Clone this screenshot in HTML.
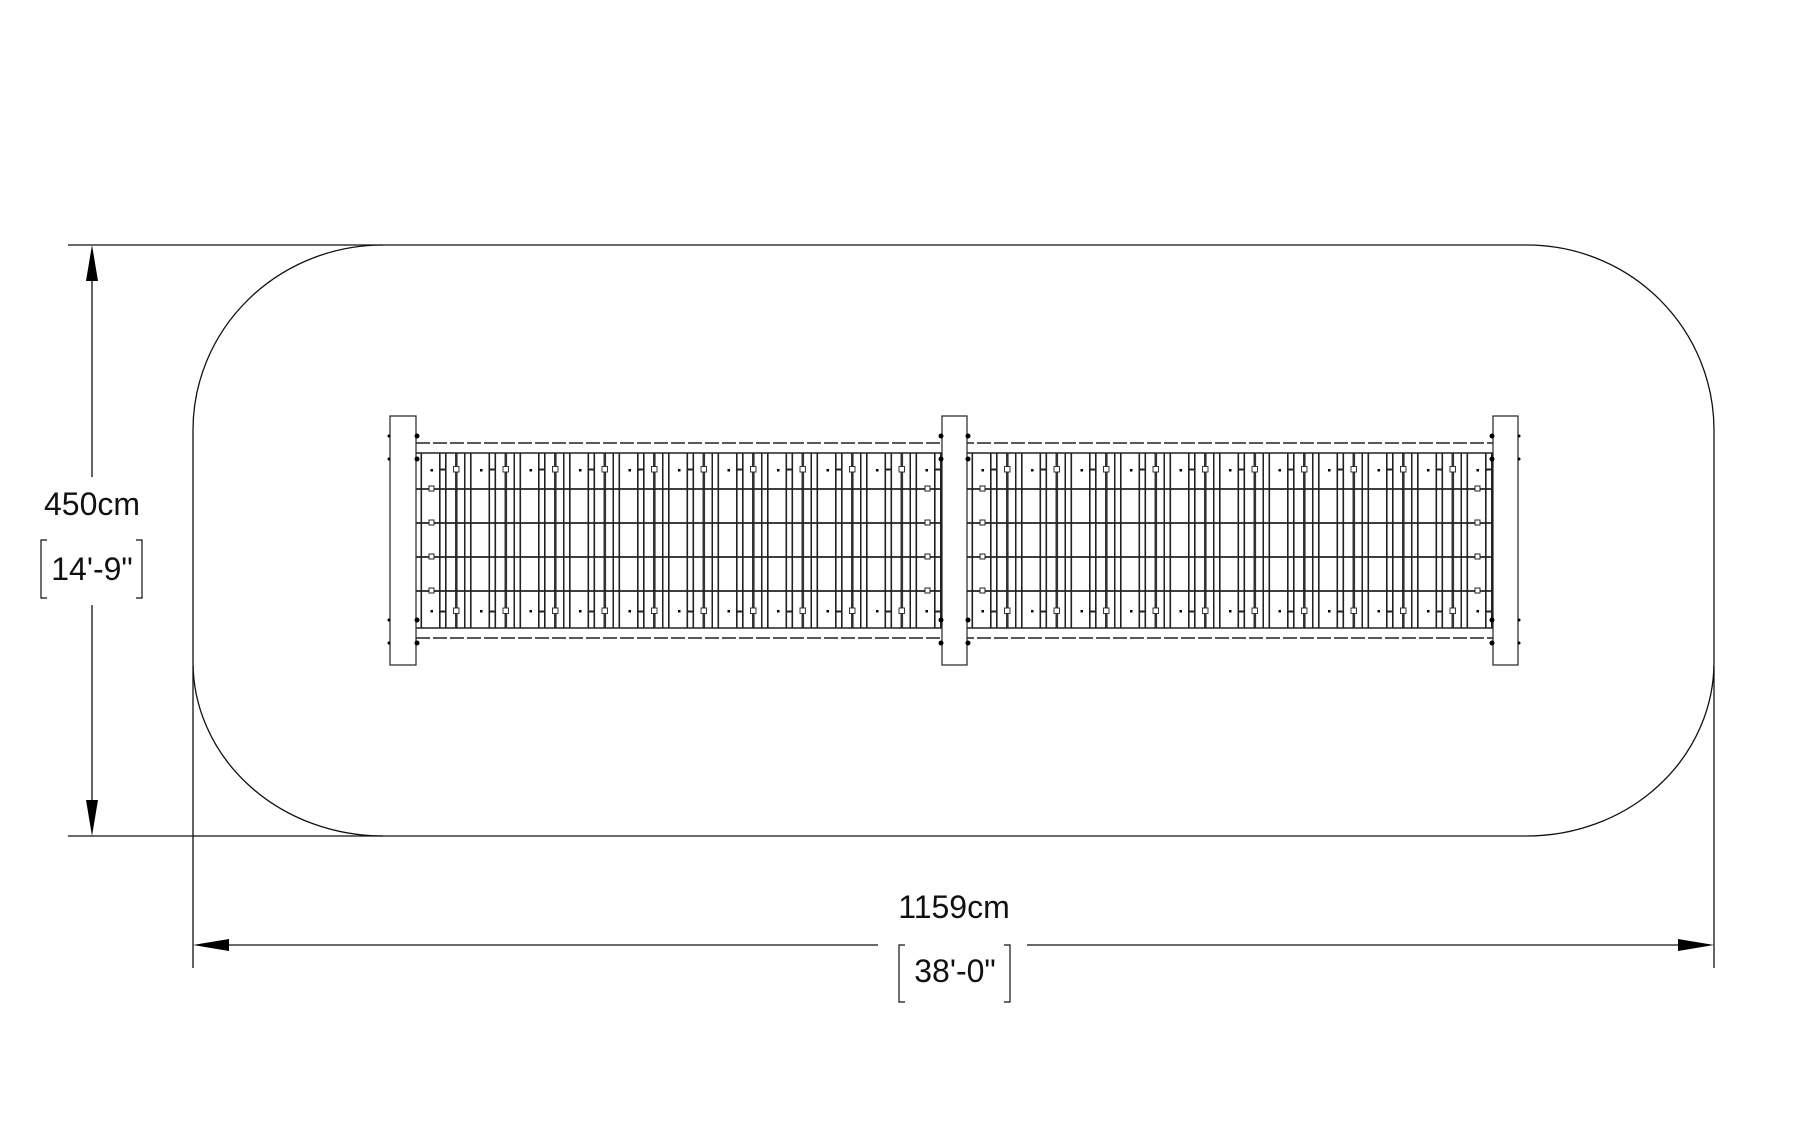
<!DOCTYPE html>
<html><head><style>html,body{margin:0;padding:0;background:#fff}svg{display:block}</style></head>
<body>
<svg width="1800" height="1125" viewBox="0 0 1800 1125" xmlns="http://www.w3.org/2000/svg" font-family="Liberation Sans, sans-serif">
<defs>
<pattern id="vl" x="416" y="0" width="49.5" height="1125" patternUnits="userSpaceOnUse">
<rect x="23" y="0" width="1.6" height="1125" fill="#222"/>
<rect x="29" y="0" width="1.6" height="1125" fill="#222"/>
<rect x="39" y="0" width="2.6" height="1125" fill="#333"/>
<rect x="48" y="0" width="1.6" height="1125" fill="#222"/>
<rect x="4.5" y="0" width="1.6" height="1125" fill="#222"/>
<rect x="14.5" y="469" width="2.5" height="2.5" fill="#000"/>
<rect x="14.5" y="610" width="2.5" height="2.5" fill="#000"/>
<rect x="24" y="468.5" width="5" height="2" fill="#222"/>
<rect x="24" y="610.5" width="5" height="2" fill="#222"/>
<rect x="37.5" y="466.5" width="5.5" height="5.5" fill="#fff" stroke="#222" stroke-width="0.9"/>
<rect x="37.5" y="608" width="5.5" height="5.5" fill="#fff" stroke="#222" stroke-width="0.9"/>
</pattern>
<pattern id="vl2" x="967" y="0" width="49.5" height="1125" patternUnits="userSpaceOnUse">
<rect x="23" y="0" width="1.6" height="1125" fill="#222"/>
<rect x="29" y="0" width="1.6" height="1125" fill="#222"/>
<rect x="39" y="0" width="2.6" height="1125" fill="#333"/>
<rect x="48" y="0" width="1.6" height="1125" fill="#222"/>
<rect x="4.5" y="0" width="1.6" height="1125" fill="#222"/>
<rect x="14.5" y="469" width="2.5" height="2.5" fill="#000"/>
<rect x="14.5" y="610" width="2.5" height="2.5" fill="#000"/>
<rect x="24" y="468.5" width="5" height="2" fill="#222"/>
<rect x="24" y="610.5" width="5" height="2" fill="#222"/>
<rect x="37.5" y="466.5" width="5.5" height="5.5" fill="#fff" stroke="#222" stroke-width="0.9"/>
<rect x="37.5" y="608" width="5.5" height="5.5" fill="#fff" stroke="#222" stroke-width="0.9"/>
</pattern>
</defs>
<g fill="none" stroke="#111" stroke-width="1.3">
<path d="M383,245 H1527 A187,185 0 0 1 1714,430 V662 A187,174 0 0 1 1527,836 H383 A190,174 0 0 1 193,662 V430 A190,185 0 0 1 383,245 Z"/>
<line x1="68" y1="245" x2="383" y2="245"/>
<line x1="68" y1="836" x2="383" y2="836"/>
<line x1="193" y1="666" x2="193" y2="968"/>
<line x1="1714" y1="666" x2="1714" y2="968"/>
<line x1="92" y1="270" x2="92" y2="477"/>
<line x1="92" y1="605" x2="92" y2="810"/>
<line x1="225" y1="945" x2="878" y2="945"/>
<line x1="1027" y1="945" x2="1682" y2="945"/>
<path d="M47,540 H41 V598 H47 M136,540 H142 V598 H136" stroke-width="1.2"/>
<path d="M905,945 H899 V1002 H905 M1004,945 H1010 V1002 H1004" stroke-width="1.2"/>
</g>
<g fill="#000">
<polygon points="92,245 86,281 98,281"/>
<polygon points="92,836 86,800 98,800"/>
<polygon points="193,945 229,939 229,951"/>
<polygon points="1714,945 1678,939 1678,951"/>
</g>
<g font-size="32" fill="#111" text-anchor="middle">
<text x="92" y="515">450cm</text>
<text x="92" y="580">14'-9"</text>
<text x="954" y="918">1159cm</text>
<text x="955" y="982">38'-0"</text>
</g>
<rect x="416" y="453" width="526" height="175" fill="url(#vl)"/>
<rect x="967" y="453" width="526" height="175" fill="url(#vl2)"/>
<g stroke="#222" stroke-width="1.5" fill="none">
<line x1="416" y1="443" x2="1493" y2="443" stroke-dasharray="14,3"/>
<line x1="416" y1="453" x2="1493" y2="453"/>
<line x1="416" y1="628" x2="1493" y2="628"/>
<line x1="416" y1="638" x2="1493" y2="638" stroke-dasharray="14,3"/>
<line x1="416" y1="489" x2="1493" y2="489" stroke-width="1.8"/>
<line x1="416" y1="523" x2="1493" y2="523" stroke-width="1.8"/>
<line x1="416" y1="557" x2="1493" y2="557" stroke-width="1.8"/>
<line x1="416" y1="591" x2="1493" y2="591" stroke-width="1.8"/>
</g>
<g fill="#fff" stroke="#222" stroke-width="1">
<rect x="429" y="486" width="5" height="5"/><rect x="429" y="520" width="5" height="5"/><rect x="429" y="554" width="5" height="5"/><rect x="429" y="588" width="5" height="5"/>
<rect x="925" y="486" width="5" height="5"/><rect x="925" y="520" width="5" height="5"/><rect x="925" y="554" width="5" height="5"/><rect x="925" y="588" width="5" height="5"/>
<rect x="980" y="486" width="5" height="5"/><rect x="980" y="520" width="5" height="5"/><rect x="980" y="554" width="5" height="5"/><rect x="980" y="588" width="5" height="5"/>
<rect x="1475" y="486" width="5" height="5"/><rect x="1475" y="520" width="5" height="5"/><rect x="1475" y="554" width="5" height="5"/><rect x="1475" y="588" width="5" height="5"/>
</g>
<g fill="#fff" stroke="#222" stroke-width="1.2">
<rect x="390" y="416" width="26" height="249"/>
<rect x="942" y="416" width="25" height="249"/>
<rect x="1493" y="416" width="25" height="249"/>
</g>
<g fill="#000">
<circle cx="417" cy="436" r="2.5"/><circle cx="417" cy="459" r="2.5"/><circle cx="417" cy="620" r="2.5"/><circle cx="417" cy="643" r="2.5"/>
<circle cx="389" cy="436" r="1.5"/><circle cx="389" cy="459" r="1.5"/><circle cx="389" cy="620" r="1.5"/><circle cx="389" cy="643" r="1.5"/>
<circle cx="941" cy="436" r="2.5"/><circle cx="941" cy="459" r="2.5"/><circle cx="941" cy="620" r="2.5"/><circle cx="941" cy="643" r="2.5"/>
<circle cx="968" cy="436" r="2.5"/><circle cx="968" cy="459" r="2.5"/><circle cx="968" cy="620" r="2.5"/><circle cx="968" cy="643" r="2.5"/>
<circle cx="1492" cy="436" r="2.5"/><circle cx="1492" cy="459" r="2.5"/><circle cx="1492" cy="620" r="2.5"/><circle cx="1492" cy="643" r="2.5"/>
<circle cx="1519" cy="436" r="1.5"/><circle cx="1519" cy="459" r="1.5"/><circle cx="1519" cy="620" r="1.5"/><circle cx="1519" cy="643" r="1.5"/>
</g>
</svg>
</body></html>
